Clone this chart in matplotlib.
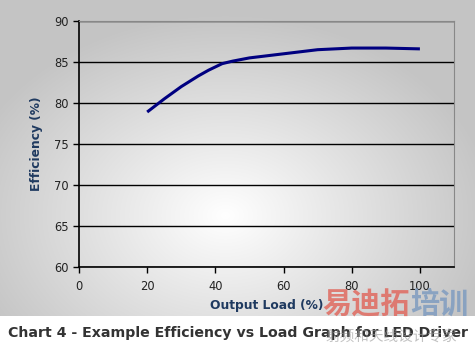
import matplotlib
matplotlib.use("Agg")
import matplotlib.pyplot as plt
import numpy as np

plt.rcParams["font.family"] = ["DejaVu Sans", "Noto Sans CJK SC"]

# 数据
load = [20, 25, 30, 35, 38, 42, 45, 50, 60, 70, 80, 90, 100]
efficiency = [78.9, 80.5, 82.0, 83.3, 84.0, 84.8, 85.1, 85.5, 86.0, 86.5, 86.7, 86.7, 86.6]
x_ticks = [0, 20, 40, 60, 80, 100]
y_ticks = [60, 65, 70, 75, 80, 85, 90]

W, H = 475, 347
fig = plt.figure(figsize=(W / 100, H / 100), dpi=100)
fig.patch.set_facecolor("white")

# ---- 灰色渐变背景 ----
bg = fig.add_axes([0, 1 - 316 / H, 1, 316 / H])
yy, xx = np.mgrid[0:316, 0:W]
d = np.sqrt(((xx - 225) / 280.0) ** 2 + ((yy - 215) / 210.0) ** 2)
g = np.clip(1.0 - 0.24 * d, 0.77, 1.0)
bg.imshow(np.dstack([g, g, g]), aspect="auto", interpolation="bilinear")
bg.axis("off")

# ---- 主图 ----
left, right, top, bottom = 79, 454, 21, 267
ax = fig.add_axes([left / W, 1 - bottom / H, (right - left) / W, (bottom - top) / H])
ax.patch.set_alpha(0)
ax.plot(load, efficiency, color="#000080", linewidth=2.2, solid_capstyle="butt")
ax.set_xlim(0, 110)
ax.set_ylim(60, 90)
ax.set_xticks(x_ticks)
ax.set_yticks(y_ticks)
ax.tick_params(axis="both", labelsize=8.3, colors="black", labelcolor="#222222",
               direction="out", length=4, width=1)
ax.tick_params(axis="x", pad=5)
ax.grid(axis="y", color="black", linewidth=1)
ax.set_axisbelow(True)
for s in ["top", "right"]:
    ax.spines[s].set_color("#888888")
for s in ["left", "bottom"]:
    ax.spines[s].set_color("black")
    ax.spines[s].set_linewidth(1.2)

ax.set_xlabel("Output Load (%)", fontsize=8.8, fontweight="bold", color="#1F3A60", labelpad=5)
ax.set_ylabel("Efficiency (%)", fontsize=8.8, fontweight="bold", color="#1F3A60", labelpad=8)

# ---- 标题 ----
fig.text(8 / W, 1 - 333 / H, "Chart 4 - Example Efficiency vs Load Graph for LED Driver",
         fontsize=10.2, fontweight="bold", color="#333333", va="center", ha="left")

# ---- 水印 ----
cjk = ["Noto Sans CJK SC", "DejaVu Sans"]
fig.text(322 / W, 1 - 304 / H, "易迪拓", fontsize=21, fontweight="bold", color="#e06a60",
         alpha=0.85, va="center", ha="left", family=cjk)
fig.text(410 / W, 1 - 304 / H, "培训", fontsize=21, fontweight="bold", color="#7f9cc0",
         alpha=0.85, va="center", ha="left", family=cjk)
fig.text(326 / W, 1 - 338 / H, "射频和天线设计专家", fontsize=10.5, color="#999999",
         alpha=0.6, va="center", ha="left", family=cjk)

fig.savefig("out.png", dpi=100, facecolor="white")
